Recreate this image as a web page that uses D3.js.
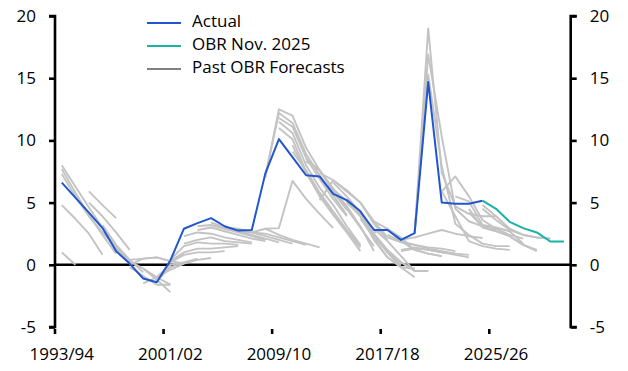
<!DOCTYPE html>
<html>
<head>
<meta charset="utf-8">
<script src="https://cdn.jsdelivr.net/npm/d3@7"></script>
<style>
  html, body { margin: 0; padding: 0; background: #fff; }
  svg { display: block; font-family: "Open Sans", "Noto Sans", sans-serif; }
</style>
</head>
<body>
<svg id="chart" width="628" height="371"></svg>
<script>
// ---------- DATA ----------
const categories = ["1993/94","1994/95","1995/96","1996/97","1997/98","1998/99","1999/00","2000/01",
  "2001/02","2002/03","2003/04","2004/05","2005/06","2006/07","2007/08","2008/09",
  "2009/10","2010/11","2011/12","2012/13","2013/14","2014/15","2015/16","2016/17",
  "2017/18","2018/19","2019/20","2020/21","2021/22","2022/23","2023/24","2024/25",
  "2025/26","2026/27","2027/28","2028/29","2029/30","2030/31"];

const xTickLabels = ["1993/94","2001/02","2009/10","2017/18","2025/26"];
const yTicks = [-5, 0, 5, 10, 15, 20];

// Actual outturn, from 1993/94
const actual = [6.6, 5.4, 4.2, 2.95, 1.1, 0.1, -1.1, -1.4, 0.35, 2.9, 3.35, 3.75, 3.1, 2.75, 2.8, 7.35,
  10.1, 8.65, 7.2, 7.1, 5.7, 5.2, 4.3, 2.8, 2.8, 2.0, 2.55, 14.7, 5.0, 4.9, 4.9, 5.15];

// OBR Nov. 2025 forecast, from 2024/25
const obrNov2025Start = "2024/25";
const obrNov2025 = [5.15, 4.5, 3.45, 2.95, 2.6, 1.87, 1.87];

// Past forecasts: first year of each, and its values
const pastStart = ["1993/94","1993/94","1993/94","1993/94","1993/94","1995/96","1995/96","1996/97",
  "1997/98","1997/98","1998/99","1998/99","1999/00","1999/00","2000/01","2000/01",
  "2001/02","2001/02","2001/02","2002/03","2002/03","2003/04","2003/04","2004/05",
  "2005/06","2006/07","2007/08","2008/09","2008/09","2008/09","2009/10","2009/10",
  "2009/10","2010/11","2010/11","2011/12","2011/12","2012/13","2012/13","2013/14",
  "2013/14","2014/15","2014/15","2015/16","2015/16","2015/16","2016/17","2016/17",
  "2017/18","2017/18","2018/19","2018/19","2018/19","2019/20","2019/20","2019/20",
  "2021/22","2021/22","2022/23","2023/24","2023/24","2024/25","2024/25"];
const pastValues = [
  [8.0, 6.3, 4.6, 3.0, 1.5],
  [7.7, 5.8, 4.0, 2.4, 0.9],
  [7.3, 5.5, 3.9, 2.6, 1.4, 0.2],
  [4.8, 3.7, 2.5, 0.8],
  [1.0, 0.0],
  [5.9, 4.8, 3.75],
  [5.0, 3.9, 2.6, 1.2],
  [3.2, 1.6, 0.4, -0.6],
  [1.5, 0.3, -0.3, -1.0, -1.6],
  [1.2, 0.4, 0.5, 0.6, 0.3, 0.1],
  [0.0, 0.5, 0.6, 0.3],
  [-0.2, -0.9, -1.6, -1.6],
  [-0.3, -1.2, -2.2],
  [-1.5, -1.0, 0.0, 0.2],
  [-1.3, -0.2, 0.2, 0.5],
  [-1.0, -0.4, 0.1, 0.4, 0.55],
  [0.2, 0.8, 1.0, 1.0, 1.1],
  [0.3, 1.0, 1.3, 1.3, 1.4, 1.5],
  [0.4, 1.5, 1.8, 1.7, 1.7, 1.6],
  [1.7, 2.0, 2.2, 1.9, 1.8, 1.7],
  [2.3, 2.6, 2.5, 2.2, 2.0, 1.8],
  [2.8, 3.0, 2.7, 2.4, 2.1, 1.9],
  [3.1, 3.2, 2.9, 2.6, 2.3, 2.0],
  [3.4, 3.0, 2.7, 2.4, 2.1, 1.8],
  [3.0, 2.9, 2.6, 2.3, 2.0, 1.7],
  [2.7, 2.6, 2.5, 2.2, 1.9, 1.6],
  [2.6, 2.9, 2.4, 2.0, 1.7, 1.4],
  [2.9, 2.95, 6.75, 5.3, 4.1, 2.95],
  [7.0, 12.5, 12.0, 9.4, 7.6, 5.9, 4.4],
  [7.2, 12.2, 11.4, 8.9, 7.2, 5.6, 4.0],
  [11.8, 11.1, 8.6, 6.9, 5.3, 3.9],
  [11.5, 10.6, 8.0, 6.2, 4.8, 3.1, 1.6],
  [11.0, 10.1, 7.5, 5.5, 4.0, 2.6, 1.1],
  [9.6, 7.4, 5.6, 4.1, 2.7, 1.4],
  [9.1, 7.6, 5.8, 4.3, 2.8, 1.5],
  [8.5, 7.6, 6.1, 4.5, 3.0, 1.5],
  [8.3, 7.6, 6.1, 4.7, 3.1, 1.1],
  [5.2, 6.8, 5.9, 5.0, 3.3, 2.0],
  [7.4, 6.8, 6.0, 5.0, 3.5, 2.2],
  [6.1, 5.1, 3.9, 2.4, 1.0, 0.0],
  [6.6, 5.5, 4.2, 2.4, 1.0, -0.2],
  [5.0, 4.0, 2.1, 0.6, -0.2, -1.0],
  [5.0, 4.0, 2.0, 0.6, -0.2, -0.3],
  [3.7, 2.2, 1.1, 0.2, -0.4],
  [3.9, 2.5, 1.2, 0.2, -0.5, -0.5],
  [4.0, 2.9, 1.9, 0.7, -0.5, -0.5],
  [3.5, 2.9, 2.2, 1.2, 0.9, 0.7],
  [2.6, 2.9, 1.9, 1.2, 0.9, 0.7],
  [2.4, 1.9, 1.6, 1.4, 1.3, 1.1],
  [2.2, 1.8, 1.6, 1.3, 1.1, 0.9],
  [1.2, 1.4, 1.2, 1.0, 0.9, 0.8],
  [1.1, 1.3, 1.2, 1.0, 0.8, 0.6],
  [2.0, 2.2, 2.5, 2.8, 2.5, 2.3, 2.15],
  [2.6, 19.0, 7.4, 4.7, 4.1, 3.9, 3.9],
  [2.5, 16.9, 10.3, 4.5, 3.5, 3.1, 2.8],
  [2.6, 15.3, 7.9, 3.3, 2.4, 1.7, 1.5, 1.5],
  [5.9, 3.9, 1.9, 1.5, 1.3, 1.2],
  [5.9, 7.1, 5.5, 3.6, 2.9, 2.4, 2.1],
  [5.5, 5.1, 3.2, 3.0, 2.7, 1.7],
  [4.5, 3.0, 2.7, 2.3, 1.6, 1.1],
  [4.2, 3.1, 2.7, 2.3, 1.6, 1.2],
  [4.5, 3.6, 2.8, 2.4, 2.2, 2.1],
  [4.8, 3.9, 2.9, 2.4, 2.2, 2.1]
];

const legendLabels = ["Actual", "OBR Nov. 2025", "Past OBR Forecasts"];

// ---------- CHART ----------
const svg = d3.select("#chart");
const plotL = 55, plotR = 570.7, plotT = 16, plotB = 327;

const x = d3.scaleBand().domain(categories).range([plotL, plotR]).padding(0);
const y = d3.scaleLinear().domain([-5, 20]).range([plotB, plotT]);
const cx = c => x(c) + x.bandwidth() / 2;

const colors = { actual: "#2156cf", obr: "#19b3a3", past: "#c3c3c3", pastKey: "#808080" };

function toPoints(startLabel, vals) {
  const s = categories.indexOf(startLabel);
  return vals.map((v, k) => ({ c: categories[s + k], v }));
}
const line = d3.line().x(d => cx(d.c)).y(d => y(d.v));

// zero line
svg.append("line")
  .attr("x1", plotL).attr("x2", plotR)
  .attr("y1", y(0)).attr("y2", y(0))
  .attr("stroke", "#000").attr("stroke-width", 2.6);

// past forecasts
svg.append("g").selectAll("path")
  .data(pastValues.map((vals, i) => toPoints(pastStart[i], vals)))
  .join("path")
  .attr("d", line)
  .attr("fill", "none")
  .attr("stroke", colors.past)
  .attr("stroke-width", 1.9)
  .attr("stroke-linejoin", "round");

// actual
svg.append("path")
  .datum(toPoints(categories[0], actual))
  .attr("d", line)
  .attr("fill", "none")
  .attr("stroke", colors.actual)
  .attr("stroke-width", 2)
  .attr("stroke-linejoin", "round");

// OBR Nov 2025
svg.append("path")
  .datum(toPoints(obrNov2025Start, obrNov2025))
  .attr("d", line)
  .attr("fill", "none")
  .attr("stroke", colors.obr)
  .attr("stroke-width", 2)
  .attr("stroke-linejoin", "round");

// y axes
const fmt = d => String(d);
const yLeft = d3.axisLeft(y).tickValues(yTicks).tickSize(6).tickPadding(13).tickFormat(fmt);
const yRight = d3.axisRight(y).tickValues(yTicks).tickSize(6).tickPadding(13).tickFormat(fmt);

function styleAxis(g) {
  g.select(".domain").attr("stroke", "#000").attr("stroke-width", 2.6);
  g.selectAll(".tick line").attr("stroke", "#000").attr("stroke-width", 2.6);
  g.selectAll(".tick text").attr("fill", "#000").style("font-size", "17px")
    .style("font-family", '"Open Sans", "Noto Sans", sans-serif');
}
const gl = svg.append("g").attr("transform", `translate(${plotL},0)`).call(yLeft);
gl.select(".domain").attr("d", `M-6,${plotB}H0V${plotT}H-6`);
styleAxis(gl);
const gr = svg.append("g").attr("transform", `translate(${plotR},0)`).call(yRight);
gr.select(".domain").attr("d", `M6,${plotB}H0V${plotT}H6`);
styleAxis(gr);

// x axis: tick marks at category boundaries, labels centred on categories
const gx = svg.append("g");
gx.selectAll("line")
  .data(xTickLabels)
  .join("line")
  .attr("x1", d => x(d)).attr("x2", d => x(d))
  .attr("y1", plotB + 2).attr("y2", plotB + 7)
  .attr("stroke", "#000").attr("stroke-width", 2.6);
gx.selectAll("text")
  .data(xTickLabels)
  .join("text")
  .attr("x", d => cx(d))
  .attr("y", 355)
  .attr("text-anchor", "middle")
  .attr("dominant-baseline", "middle")
  .style("font-size", "17px")
  .attr("fill", "#000")
  .text(d => d);

// legend
const legendColors = [colors.actual, colors.obr, colors.pastKey];
const lg = svg.append("g");
legendLabels.forEach((lab, i) => {
  const yy = 23 + i * 23;
  lg.append("line").attr("x1", 147).attr("x2", 181).attr("y1", yy).attr("y2", yy)
    .attr("stroke", legendColors[i]).attr("stroke-width", 2.2);
  lg.append("text").attr("x", 192).attr("y", yy - 1)
    .attr("dominant-baseline", "middle")
    .style("font-size", "17px").attr("fill", "#000").text(lab);
});
</script>
</body>
</html>
